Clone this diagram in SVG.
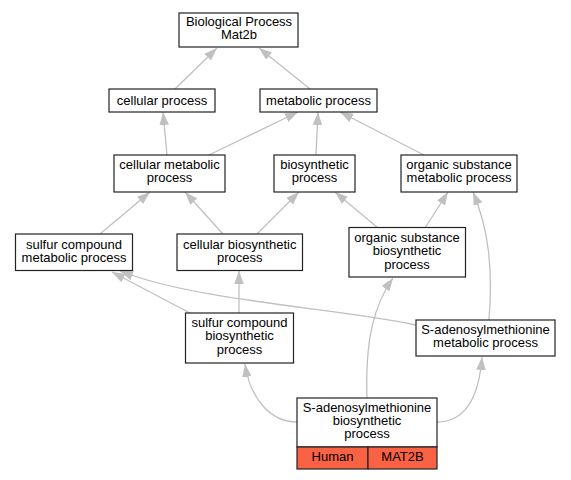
<svg xmlns="http://www.w3.org/2000/svg" width="571" height="480" viewBox="0 0 571 480">
<defs>
<marker id="arr" viewBox="0 0 13 9.5" refX="13" refY="4.75" markerWidth="13" markerHeight="9.5" markerUnits="userSpaceOnUse" orient="auto">
<polygon points="0,0 13,4.75 0,9.5" fill="#c0c0c0"/>
</marker>
<style>
.n rect{fill:#fff;stroke:#222;stroke-width:1.2}
.n text{font-family:"Liberation Sans",Arial,sans-serif;font-size:13px;text-anchor:middle;fill:#000}
#edges path{fill:none;stroke:#c0c0c0;stroke-width:1.3;marker-end:url(#arr)}
.t{fill:#fa6244 !important}
</style>
</defs>
<rect width="571" height="480" fill="#fff"/>
<g id="edges">
<path d="M175,89 L217,48"/>
<path d="M310,89 L259,48"/>
<path d="M167,155 L163,112"/>
<path d="M209,155 L298,112"/>
<path d="M316,155 L318,112"/>
<path d="M424,155 L340,112"/>
<path d="M100,234 L150,192"/>
<path d="M223,234 L185,192"/>
<path d="M257,234 L299,192"/>
<path d="M378,228 L335,192"/>
<path d="M425,228 L448,192"/>
<path d="M489,320 C493,270 489,230 473,192"/>
<path d="M190,313 L112,272"/>
<path d="M239,313 L239,271"/>
<path d="M416,325 C340,308 200,302 120,271"/>
<path d="M367,398 C365,340 374,305 393,278"/>
<path d="M297,422 C270,422 250,398 245,364"/>
<path d="M437,422 C466,422 479,396 482,357"/>
</g>
<g id="n_bp" class="n"><rect x="179" y="13" width="119" height="34"/><text x="239" y="26">Biological Process</text><text x="239" y="39">Mat2b</text></g>
<g id="n_cp" class="n"><rect x="109" y="89" width="106" height="23"/><text x="162" y="105">cellular process</text></g>
<g id="n_mp" class="n"><rect x="260" y="89" width="117" height="23"/><text x="318.5" y="105">metabolic process</text></g>
<g id="n_cmp" class="n"><rect x="114" y="155" width="111" height="37"/><text x="169.5" y="169">cellular metabolic</text><text x="169.5" y="182">process</text></g>
<g id="n_bsp" class="n"><rect x="274" y="155" width="81" height="37"/><text x="314.5" y="169">biosynthetic</text><text x="314.5" y="182">process</text></g>
<g id="n_osmp" class="n"><rect x="401" y="155" width="116" height="37"/><text x="459" y="169">organic substance</text><text x="459" y="182">metabolic process</text></g>
<g id="n_scmp" class="n"><rect x="15.5" y="234" width="117" height="36.5"/><text x="74" y="249">sulfur compound</text><text x="74" y="262">metabolic process</text></g>
<g id="n_cbp" class="n"><rect x="177" y="234" width="125.5" height="36.5"/><text x="239.7" y="249">cellular biosynthetic</text><text x="239.7" y="262">process</text></g>
<g id="n_osbp" class="n"><rect x="349" y="227.5" width="116.5" height="49.5"/><text x="407" y="242">organic substance</text><text x="407" y="255">biosynthetic</text><text x="407" y="268.5">process</text></g>
<g id="n_scbp" class="n"><rect x="185.5" y="313" width="108" height="50"/><text x="239.5" y="327">sulfur compound</text><text x="239.5" y="340">biosynthetic</text><text x="239.5" y="353.5">process</text></g>
<g id="n_sammp" class="n"><rect x="416" y="320" width="139" height="36"/><text x="485.5" y="333.5">S-adenosylmethionine</text><text x="485.5" y="346.5">metabolic process</text></g>
<g id="n_sambp" class="n"><rect x="297" y="398" width="140" height="49"/><text x="367" y="412">S-adenosylmethionine</text><text x="367" y="425">biosynthetic</text><text x="367" y="438">process</text>
<rect class="t" x="297" y="447" width="71" height="22"/><rect class="t" x="368" y="447" width="69" height="22"/><text x="332.5" y="461">Human</text><text x="402.5" y="461">MAT2B</text></g>
</svg>
